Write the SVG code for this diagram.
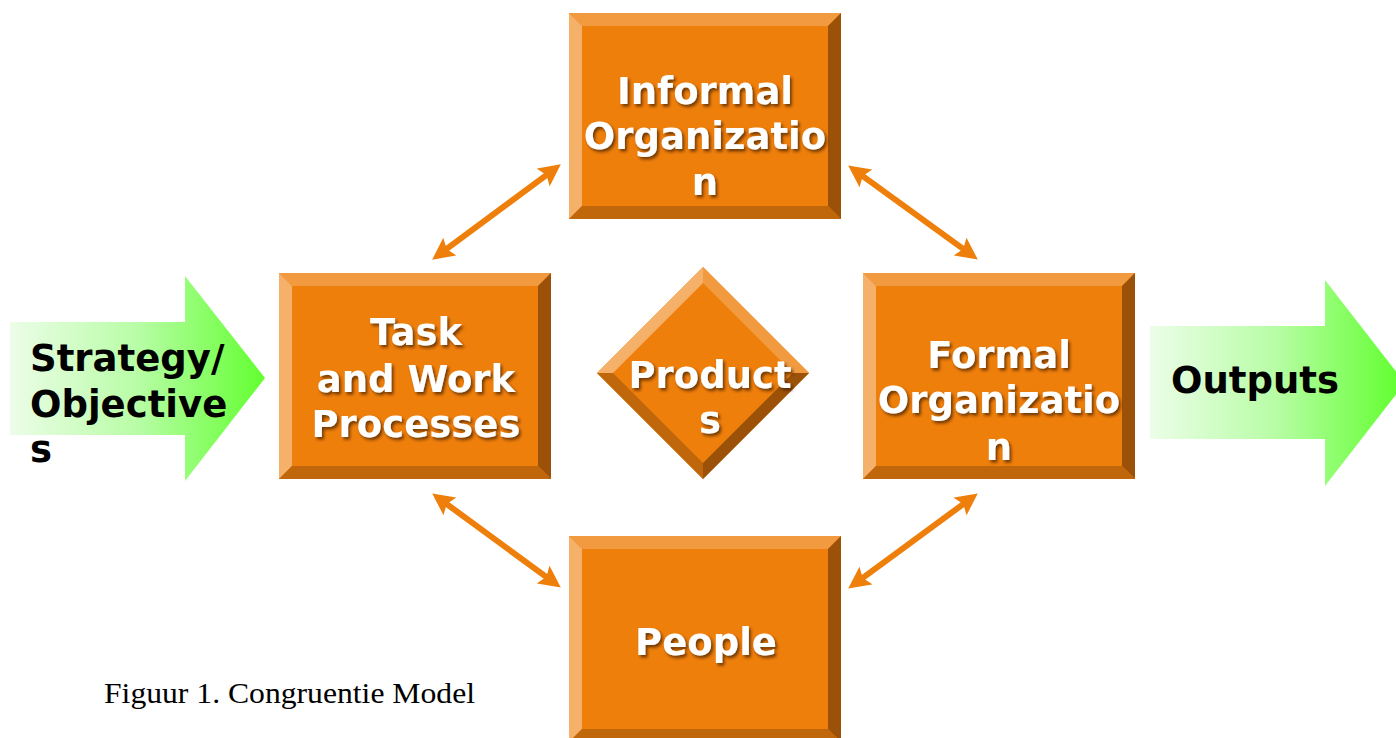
<svg xmlns="http://www.w3.org/2000/svg" xmlns:xlink="http://www.w3.org/1999/xlink" width="1396" height="738" viewBox="0 0 1396 738">
  <style>
    .label { font-family: "DejaVu Sans", Verdana, sans-serif; font-weight: bold; font-size: 37px; fill: #ffffff; text-anchor: middle; filter: url(#textShadow); }
    .flow { font-family: "DejaVu Sans", Verdana, sans-serif; font-weight: bold; font-size: 37px; fill: #000000; }
    .caption { font-family: "Liberation Serif", "Times New Roman", serif; font-size: 30px; fill: #000000; }
    .link { stroke: #ef7f0b; stroke-width: 6; fill: none; marker-start: url(#head); marker-end: url(#head); }
    .face { fill: #ef7f0b; }
    .bev-top { fill: #f19a40; }
    .bev-left { fill: #f5b06a; }
    .bev-right { fill: #9b5108; }
    .bev-bottom { fill: #c0660b; }
  </style>
  <defs>
    <filter id="textShadow" x="-20%" y="-40%" width="140%" height="180%">
      <feDropShadow dx="2" dy="2.5" stdDeviation="1.8" flood-color="#3a1a00" flood-opacity="0.7"/>
    </filter>
    <linearGradient id="greenIn" gradientUnits="userSpaceOnUse" x1="10" y1="0" x2="265" y2="0">
      <stop offset="0" stop-color="#ecfde8"/>
      <stop offset="0.5" stop-color="#b8fda6"/>
      <stop offset="1" stop-color="#62ff30"/>
    </linearGradient>
    <linearGradient id="greenOut" gradientUnits="userSpaceOnUse" x1="1150" y1="0" x2="1400" y2="0">
      <stop offset="0" stop-color="#ecfde8"/>
      <stop offset="0.5" stop-color="#b8fda6"/>
      <stop offset="1" stop-color="#62ff30"/>
    </linearGradient>
    <marker id="head" markerUnits="userSpaceOnUse" viewBox="0 0 22 22" markerWidth="22" markerHeight="22" refX="9" refY="11" orient="auto-start-reverse">
      <path d="M0,0 L22,11 L0,22 L4,11 Z" fill="#ef7f0b"/>
    </marker>
    <!-- bevelled block, 272 x 206, bevel 13 -->
    <g id="bevelBox">
      <rect class="face" x="0" y="0" width="272" height="206"/>
      <polygon class="bev-top" points="0,0 272,0 259,13 13,13"/>
      <polygon class="bev-left" points="0,0 13,13 13,193 0,206"/>
      <polygon class="bev-right" points="272,0 272,206 259,193 259,13"/>
      <polygon class="bev-bottom" points="0,206 272,206 259,193 13,193"/>
    </g>
  </defs>

  <rect width="1396" height="738" fill="#ffffff"/>

  <!-- input / output flow arrows -->
  <g id="strategy">
    <polygon points="10,322 185,322 185,276 265,378 185,481 185,435 10,435" fill="url(#greenIn)"/>
    <text class="flow" x="30" y="371">Strategy/</text>
    <text class="flow" x="30" y="417">Objective</text>
    <text class="flow" x="30" y="462">s</text>
  </g>
  <g id="outputs">
    <polygon points="1150,326 1325,326 1325,280 1405,383 1325,486 1325,439 1150,439" fill="url(#greenOut)"/>
    <text class="flow" x="1171" y="393">Outputs</text>
  </g>

  <!-- connectors -->
  <g id="connectors">
    <line class="link" x1="442.6" y1="251.9" x2="550.4" y2="172.1"/>
    <line class="link" x1="858.7" y1="173.1" x2="967.3" y2="251.9"/>
    <line class="link" x1="442.7" y1="501.1" x2="550.3" y2="579.9"/>
    <line class="link" x1="967.3" y1="501.1" x2="858.7" y2="580.9"/>
  </g>

  <!-- component blocks -->
  <g id="informal">
    <use xlink:href="#bevelBox" href="#bevelBox" x="569" y="13"/>
    <text class="label" x="705" y="104">Informal</text>
    <text class="label" x="705" y="149">Organizatio</text>
    <text class="label" x="705" y="195">n</text>
  </g>
  <g id="task">
    <use xlink:href="#bevelBox" href="#bevelBox" x="279" y="273"/>
    <text class="label" x="416" y="345">Task</text>
    <text class="label" x="416" y="392">and Work</text>
    <text class="label" x="416" y="437">Processes</text>
  </g>
  <g id="formal">
    <use xlink:href="#bevelBox" href="#bevelBox" x="863" y="273"/>
    <text class="label" x="999" y="368">Formal</text>
    <text class="label" x="999" y="413">Organizatio</text>
    <text class="label" x="999" y="460">n</text>
  </g>
  <g id="people">
    <use xlink:href="#bevelBox" href="#bevelBox" x="569" y="536"/>
    <text class="label" x="706" y="655">People</text>
  </g>
  <g id="products">
    <polygon class="face" points="703,267 809,373 703,479 597,373"/>
    <polygon class="bev-left" points="703,267 597,373 613,373 703,283"/>
    <polygon class="bev-top" points="703,267 809,373 793,373 703,283"/>
    <polygon class="bev-right" points="809,373 703,479 703,463 793,373"/>
    <polygon class="bev-bottom" points="597,373 703,479 703,463 613,373"/>
    <text class="label" x="710" y="388">Product</text>
    <text class="label" x="710" y="433">s</text>
  </g>

  <text class="caption" x="104" y="703" textLength="371" lengthAdjust="spacingAndGlyphs">Figuur 1. Congruentie Model</text>
</svg>
